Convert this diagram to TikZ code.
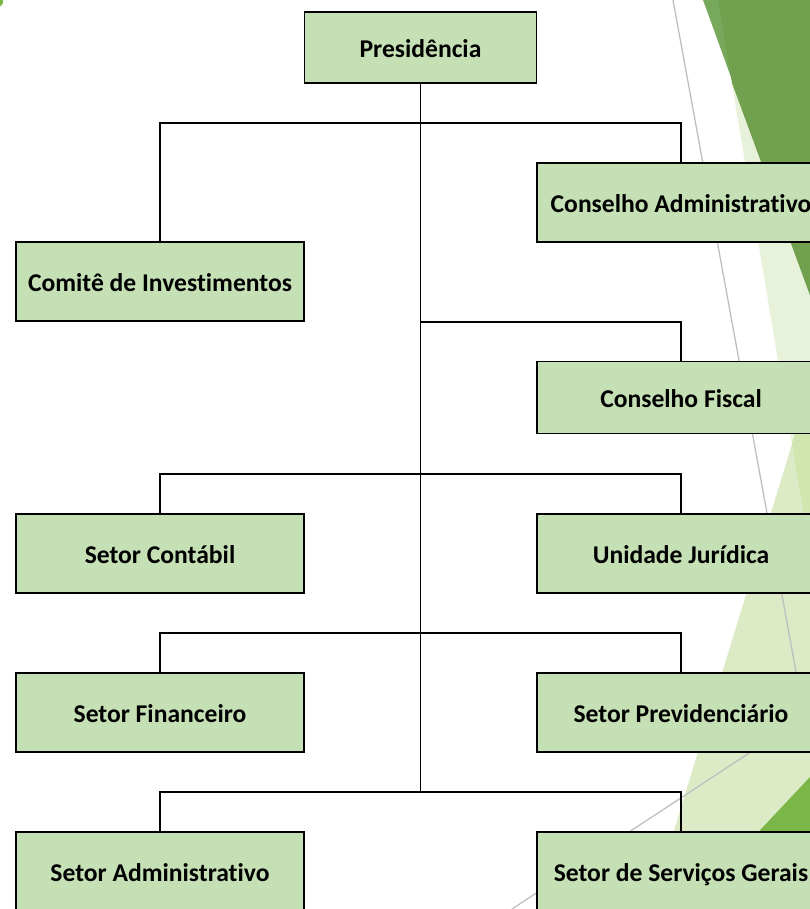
\documentclass[tikz,border=0pt]{standalone}
\usepackage{fontspec}
\setmainfont{Carlito}[Ligatures=NoCommon]
\definecolor{boxg}{HTML}{C5E0B4}
\definecolor{darkg}{HTML}{71A04F}
\definecolor{darkg2}{HTML}{78A85B}
\definecolor{paleg}{HTML}{E8F1D9}
\definecolor{lightg}{HTML}{DCEBC5}
\definecolor{overg}{HTML}{D1E5AF}
\definecolor{brightg}{HTML}{7AB648}
\definecolor{lineg}{HTML}{BFBFBF}
\begin{document}
\begin{tikzpicture}[x=1pt,y=-1pt,
  box/.style={draw=black, line width=1.8pt, fill=boxg, inner sep=0pt,
    font=\fontsize{25.6}{28}\selectfont\bfseries, text height=19.5pt, text depth=0pt},
  sidebox/.style={box, minimum width=288pt, minimum height=79pt},
  conn/.style={line width=1.1pt, draw=black},
  gline/.style={line width=1.3pt, draw=lineg}]
\useasboundingbox (0,0) rectangle (810,909);
\clip (0,0) rectangle (810,909);
% background decoration
\fill[paleg] (718,0) -- (810,0) -- (810,553) -- cycle;
\fill[darkg2] (703,0) -- (810,0) -- (810,295) -- cycle;
\fill[darkg] (718,0) -- (810,0) -- (810,295) -- (732,83) -- cycle;
\fill[lightg] (810,385) -- (650,909) -- (810,909) -- cycle;
\fill[overg] (810,385) -- (792,444) -- (810,553) -- cycle;
\fill[brightg] (810,777) -- (686,909) -- (810,909) -- cycle;
\fill[brightg] (0,0) -- (3,0) -- (3,3) -- (1,6) -- (0,6) -- cycle;
\draw[gline] (673,0) -- (810,748);
\draw[gline] (810,713) -- (512,909);
% nodes
\node[box, minimum width=232pt, minimum height=71pt] (pres) at (420.5,47.5) {Presidência};
\node[sidebox] (cadm) at (681,202.5) {Conselho Administrativo};
\node[sidebox] (comite) at (160,281.5) {Comitê de Investimentos};
\node[box, minimum width=288pt, minimum height=72pt] (cfis) at (681,397.5) {Conselho Fiscal};
\node[sidebox] (contabil) at (160,553.5) {Setor Contábil};
\node[sidebox] (juridica) at (681,553.5) {Unidade Jurídica};
\node[sidebox] (financeiro) at (160,712.5) {Setor Financeiro};
\node[sidebox] (previd) at (681,712.5) {Setor Previdenciário};
\node[sidebox] (admin) at (160,871.5) {Setor Administrativo};
\node[sidebox] (servicos) at (681,871.5) {Setor de Serviços Gerais};
% connectors
\coordinate (j1) at (pres.south |- 0,123);
\coordinate (j2) at (pres.south |- 0,322);
\coordinate (j3) at (pres.south |- 0,474);
\coordinate (j4) at (pres.south |- 0,633);
\coordinate (j5) at (pres.south |- 0,792);
\draw[conn] (pres.south) -- (j5);
\draw[conn] (j1) -| (comite.north);
\draw[conn] (j1) -| (cadm.north);
\draw[conn] (j2) -| (cfis.north);
\draw[conn] (j3) -| (contabil.north);
\draw[conn] (j3) -| (juridica.north);
\draw[conn] (j4) -| (financeiro.north);
\draw[conn] (j4) -| (previd.north);
\draw[conn] (j5) -| (admin.north);
\draw[conn] (j5) -| (servicos.north);
\end{tikzpicture}
\end{document}
